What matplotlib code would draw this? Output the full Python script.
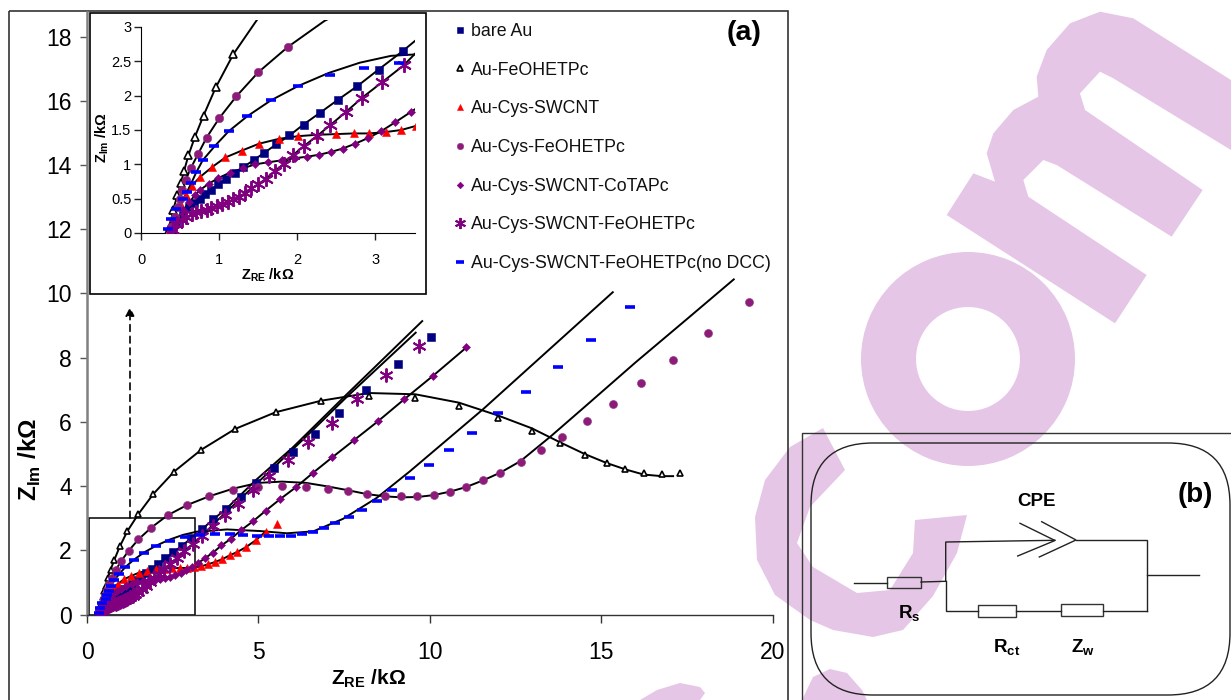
import numpy as np
import matplotlib
matplotlib.use("Agg")
import matplotlib.pyplot as plt
from matplotlib.patches import Rectangle, FancyBboxPatch, Polygon, Wedge
from matplotlib.lines import Line2D

plt.rcParams['font.family'] = ['Liberation Sans', 'DejaVu Sans']
plt.rcParams['mathtext.fontset'] = 'custom'
plt.rcParams['mathtext.rm'] = 'Liberation Sans'
plt.rcParams['mathtext.bf'] = 'Liberation Sans:bold'

# ---------- data (kOhm) ----------
bare_x = [.38,.45,.54,.62,.68,.75,.82,.9,.99,1.09,1.2,1.31,1.44,1.58,1.73,1.9,2.08,2.29,2.52,2.77,3.04,3.35,3.69,4.07,4.49,4.94,5.45,6.02,6.66,7.36,8.15,9.06,10.04]
bare_y = [.015,.16,.28,.38,.44,.5,.57,.63,.71,.79,.87,.96,1.06,1.17,1.29,1.42,1.58,1.75,1.94,2.14,2.38,2.65,2.97,3.3,3.67,4.09,4.55,5.05,5.61,6.27,6.98,7.79,8.66]
bare_fit_n = 24
bare_fit_tx = [4.94,6.0,7.57,9.78]
bare_fit_ty = [4.2,5.2,6.85,9.14]

fe_x = [.35,.37,.41,.466,.51,.55,.607,.69,.80,.957,1.18,1.5,1.94,2.54,3.33,4.32,5.5,6.83,8.22,9.58,10.85,11.99,12.98,13.81,14.52,15.16,15.71,16.24,16.77,17.29]
fe_y = [.015,.09,.33,.55,.73,.90,1.13,1.4,1.71,2.12,2.6,3.13,3.76,4.45,5.13,5.78,6.3,6.66,6.8,6.73,6.49,6.13,5.73,5.33,4.98,4.71,4.52,4.42,4.38,4.42]
fe_fit_n = 18
fe_fit_tx = [8.22,9.58,10.85,11.99,12.98,13.81,14.52,15.16,15.71,16.24,16.77,17.1]
fe_fit_ty = [6.9,6.86,6.6,6.2,5.8,5.36,5.0,4.72,4.52,4.36,4.31,4.31]

cys_x = [.35,.41,.5,.57,.65,.76,.91,1.08,1.29,1.51,1.76,2.01,2.25,2.49,2.72,2.92,3.13,3.33,3.52,3.72,3.94,4.16,4.39,4.64,4.92,5.21,5.54]
cys_y = [0,.23,.43,.55,.69,.82,.96,1.1,1.2,1.3,1.37,1.41,1.43,1.44,1.45,1.45,1.47,1.5,1.56,1.63,1.72,1.84,1.95,2.1,2.31,2.58,2.82]
cys_fit_n = 26

cfe_x = [.39,.43,.47,.50,.53,.57,.64,.73,.84,1.0,1.22,1.5,1.88,2.35,2.92,3.56,4.26,4.99,5.69,6.39,7.02,7.62,8.17,8.69,9.17,9.64,10.12,10.58,11.06,11.56,12.06,12.65,13.24,13.87,14.58,15.36,16.17,17.1,18.11,19.32]
cfe_y = [.09,.23,.38,.49,.62,.77,.95,1.15,1.39,1.67,1.99,2.34,2.71,3.09,3.41,3.68,3.89,3.98,4.01,3.98,3.92,3.84,3.75,3.70,3.69,3.69,3.72,3.83,3.97,4.18,4.42,4.75,5.11,5.52,6.03,6.56,7.22,7.94,8.78,9.72]
cfe_fit_n = 14
cfe_fit_tx = [2.35,2.92,3.56,4.26,4.99,5.69,6.39,7.02,7.62,8.17,8.69,9.17,9.64,10.12,10.6,11.06,11.56,12.06,12.65,13.53,14.5,16.0,17.5,18.87]
cfe_fit_ty = [3.09,3.41,3.68,3.92,4.1,4.14,4.1,3.99,3.87,3.75,3.68,3.65,3.66,3.72,3.83,3.97,4.18,4.42,4.78,5.55,6.45,7.85,9.2,10.44]

co_x = [.39,.45,.54,.62,.69,.76,.87,.99,1.14,1.3,1.46,1.63,1.81,1.97,2.12,2.28,2.43,2.58,2.74,2.9,3.07,3.25,3.45,3.68,3.92,4.2,4.5,4.84,5.21,5.63,6.09,6.59,7.16,7.79,8.49,9.25,10.1,11.07]
co_y = [.015,.16,.33,.45,.55,.63,.72,.8,.88,.94,1.0,1.03,1.06,1.09,1.11,1.14,1.18,1.23,1.3,1.38,1.48,1.61,1.76,1.93,2.15,2.36,2.63,2.9,3.23,3.59,3.96,4.41,4.9,5.43,6.02,6.7,7.44,8.32]

x6_x = [.41,.45,.52,.58,.65,.71,.77,.84,.9,.97,1.04,1.11,1.18,1.26,1.33,1.41,1.5,1.6,1.71,1.83,1.95,2.09,2.25,2.42,2.62,2.83,3.09,3.36,3.67,4.02,4.42,4.83,5.32,5.85,6.45,7.15,7.89,8.73,9.68]
x6_y = [.04,.13,.19,.23,.27,.3,.32,.34,.36,.39,.42,.45,.49,.53,.58,.65,.71,.79,.9,1.01,1.14,1.27,1.41,1.57,1.76,1.97,2.2,2.44,2.77,3.09,3.45,3.87,4.33,4.81,5.37,5.98,6.71,7.47,8.37]
x6_fit_n = 28
x6_fit_tx = [3.67,4.42,5.32,6.45,7.6,9.59]
x6_fit_ty = [2.8,3.55,4.45,5.6,6.8,8.78]

dcc_x = [.35,.39,.45,.54,.59,.645,.71,.79,.94,1.12,1.36,1.66,2.01,2.42,2.85,3.3,3.74,4.17,4.56,4.95,5.32,5.63,5.94,6.26,6.58,6.91,7.25,7.63,8.02,8.45,8.89,9.42,9.97,10.57,11.24,11.98,12.82,13.73,14.71,15.83]
dcc_y = [.06,.21,.35,.49,.60,.73,.89,1.06,1.26,1.48,1.70,1.93,2.14,2.30,2.41,2.48,2.52,2.5,2.49,2.46,2.44,2.44,2.46,2.5,2.57,2.71,2.85,3.05,3.27,3.55,3.87,4.24,4.65,5.14,5.66,6.27,6.93,7.72,8.55,9.57]
dcc_fit_n = 13
dcc_fit_tx = [2.4,2.8,3.2,3.5,4.08,5.05,5.83,6.6,7.47,8.45,9.42,11.55,15.34]
dcc_fit_ty = [2.33,2.48,2.58,2.6,2.65,2.6,2.53,2.59,2.98,3.63,4.46,6.39,10.04]

legend_labels = ['bare Au','Au-FeOHETPc','Au-Cys-SWCNT','Au-Cys-FeOHETPc',
                 'Au-Cys-SWCNT-CoTAPc','Au-Cys-SWCNT-FeOHETPc','Au-Cys-SWCNT-FeOHETPc(no DCC)']
x_ticks_main = [0,5,10,15,20]
y_ticks_main = [0,2,4,6,8,10,12,14,16,18]
x_ticks_inset = [0,1,2,3]
y_ticks_inset = [0,.5,1,1.5,2,2.5,3]
y_tick_labels_inset = ['0','0.5','1','1.5','2','2.5','3']

W, H = 1231, 700
fig = plt.figure(figsize=(W/100, H/100), dpi=100)
fig.patch.set_facecolor('white')

def axpx(l, t, r, b, **kw):
    return fig.add_axes([l/W, 1-b/H, (r-l)/W, (b-t)/H], **kw)

# ---------- page layer in pixel coordinates ----------
page = fig.add_axes([0, 0, 1, 1], zorder=0)
page.set_xlim(0, W); page.set_ylim(H, 0); page.axis('off')
PINK = '#E6C6E6'

page.add_patch(Wedge((968, 359), 107, 0, 360, width=55, fc=PINK, ec='none'))
m_z = np.array([(580,520),(500,645),(1005,970),(1100,825),(745,590),(730,540),(790,480),(830,495),(1175,710),
                (1268,570),(915,330),(900,280),(960,215),(1000,235),(1353,450),(1353,240),(1060,55),(960,35),
                (870,70),(800,150),(770,230),(775,290),(700,330),(640,400),(620,460),(645,545)], float)
page.add_patch(Polygon(m_z/3 + [780, 0], closed=True, fc=PINK, ec='none'))
c_pts = [(823,428),(790,447),(765,480),(755,517),(757,560),(775,595),(810,620),(833,630),(873,637),(903,630),
         (933,596),(957,553),(967,515),(915,520),(913,553),(890,590),(857,593),(813,567),(797,543),(810,507),(845,470)]
page.add_patch(Polygon(c_pts, closed=True, fc=PINK, ec='none'))
page.add_patch(Polygon([(802,700),(813,677),(830,669),(847,673),(862,690),(867,700)], closed=True, fc=PINK, ec='none'))
page.add_patch(Polygon([(640,700),(657,690),(680,683),(700,687),(705,693),(700,700)], closed=True, fc=PINK, ec='none'))

# frames of both panels
page.add_patch(Rectangle((8.5, 10.5), 779.5, 720, fc='none', ec='#333333', lw=1.2))
page.add_patch(Rectangle((802, 433), 460, 300, fc='none', ec='#333333', lw=1.0))
page.add_patch(FancyBboxPatch((811+62, 443+62), 419-124, 252-124, boxstyle='round,pad=62,rounding_size=62',
                              fc='none', ec='#222222', lw=1.0))
# inset frame and zoom box
page.add_patch(Rectangle((89.5, 12.5), 336.5, 281.5, fc='white', ec='black', lw=1.2))
page.add_patch(Rectangle((89, 518), 105.5, 97, fc='none', ec='black', lw=1.1, zorder=5))
page.annotate('', xy=(130, 307), xytext=(130, 518),
              arrowprops=dict(arrowstyle='-|>', linestyle=(0, (4, 3)), color='black', lw=1.2,
                              mutation_scale=13, shrinkA=0, shrinkB=0))

# equivalent circuit
wires = [[(854,582.5),(887,582.5)],[(921,582),(945.7,581.3)],[(945.7,581.3),(945.7,542),(1055,540.3)],
         [(945.7,581.3),(945.7,610.7),(978.3,610.7)],[(1016.3,610.7),(1060.7,610.7)],[(1103.3,610.7),(1146.7,610.7)],
         [(1076,540.3),(1146.7,540.3),(1146.7,610.7)],[(1146.7,575),(1198.7,575)],
         [(1020,523.3),(1055,540.5),(1017.7,556)],[(1041.7,521.7),(1076,540),(1039.3,557)]]
for w in wires:
    page.plot(*zip(*w), color='#222222', lw=1.0, solid_joinstyle='miter')
for (l, t, r, b) in [(886.7,577,920.7,588),(978.3,605,1016.3,617),(1060.7,604,1103.3,616)]:
    page.add_patch(Rectangle((l, t), r-l, b-t, fc='none', ec='#333333', lw=1.0))
page.text(1037, 501, 'CPE', fontsize=13.5, fontweight='bold', ha='center', va='center')
page.text(1195, 495, '(b)', fontsize=20, fontweight='bold', ha='center', va='center')
page.text(744, 33, '(a)', fontsize=20.5, fontweight='bold', ha='center', va='center')
page.text(909, 614, r'R$_{\mathbf{s}}$', fontsize=13.5, fontweight='bold', ha='center', va='center')
page.text(1007, 648, r'R$_{\mathbf{ct}}$', fontsize=13.5, fontweight='bold', ha='center', va='center')
page.text(1083, 648, r'Z$_{\mathbf{w}}$', fontsize=13.5, fontweight='bold', ha='center', va='center')

# ---------- series definitions ----------
styles = [
    dict(marker='s', mfc='#000080', mec='#000080', ms=5.6, mew=.4),
    dict(marker='^', mfc='white', mec='black', ms=5.0, mew=1.2),
    dict(marker='^', mfc='#FF0000', mec='#FF0000', ms=6.0, mew=.4),
    dict(marker='o', mfc='#8E1B7C', mec='#8E3A7C', ms=5.8, mew=.4),
    dict(marker='D', mfc='#800080', mec='#800080', ms=4.2, mew=.4),
    dict(marker=(6, 2, 0), mec='#800080', ms=10, mew=1.4),
    dict(marker='_', mec='#0000FF', ms=7.5, mew=2.6),
]
series = [(bare_x, bare_y), (fe_x, fe_y), (cys_x, cys_y), (cfe_x, cfe_y), (co_x, co_y), (x6_x, x6_y), (dcc_x, dcc_y)]
fits = [
    (bare_x[:bare_fit_n] + bare_fit_tx, bare_y[:bare_fit_n] + bare_fit_ty),
    (fe_x[:fe_fit_n] + fe_fit_tx, fe_y[:fe_fit_n] + fe_fit_ty),
    (cys_x[:cys_fit_n], cys_y[:cys_fit_n]),
    (cfe_x[:cfe_fit_n] + cfe_fit_tx, cfe_y[:cfe_fit_n] + cfe_fit_ty),
    (co_x, co_y),
    (x6_x[:x6_fit_n] + x6_fit_tx, x6_y[:x6_fit_n] + x6_fit_ty),
    (dcc_x[:dcc_fit_n] + dcc_fit_tx, dcc_y[:dcc_fit_n] + dcc_fit_ty),
]

def draw(ax, ymax=None, scale=1.0):
    for (fx, fy) in fits:
        ax.plot(fx, fy, color='black', lw=1.4, zorder=2)
    for (sx, sy), st in zip(series, styles):
        st2 = dict(st); st2['ms'] = st['ms']*scale
        sx = np.asarray(sx); sy = np.asarray(sy)
        keep = sy <= ymax if ymax is not None else np.ones_like(sy, dtype=bool)
        ax.plot(sx[keep], sy[keep], ls='none', zorder=3, **st2)

# ---------- main plot ----------
ax = axpx(87, 12, 772.5, 614.5, zorder=1)
ax.patch.set_alpha(0)
draw(ax)
ax.set_xlim(0, 20); ax.set_ylim(0, 602.5/32.1)
ax.set_xticks(x_ticks_main); ax.set_yticks(y_ticks_main)
ax.tick_params(axis='x', labelsize=16.5, length=6, width=1, pad=13, color='#333333')
ax.tick_params(axis='y', labelsize=16.5, length=5, width=1, pad=6, color='#555555')
for s in ('top', 'right'):
    ax.spines[s].set_visible(False)
ax.spines['left'].set_color('#808080'); ax.spines['left'].set_linewidth(1.8)
ax.spines['bottom'].set_color('#333333'); ax.spines['bottom'].set_linewidth(1)
page.text(368, 679, r'Z$_{\mathbf{RE}}$ /kΩ', fontsize=15, fontweight='bold', ha='center', va='center')
page.text(30, 459, r'Z$_{\mathbf{Im}}$ /kΩ', fontsize=17.5, fontweight='bold', ha='center', va='center', rotation=90)

proxies = [Line2D([], [], ls='none', **st) for st in styles]
ax.legend(proxies, legend_labels, loc='upper left', bbox_to_anchor=((452-87)/685.5, 1-(23-12)/602.5),
          frameon=False, fontsize=12.8, handlelength=.9, handletextpad=.18, labelspacing=1.22, markerscale=.8,
          borderpad=0, borderaxespad=0, labelcolor='#111111')

# ---------- inset ----------
ins = axpx(141, 20, 414.5, 233, zorder=2)
ins.patch.set_alpha(0)
draw(ins, ymax=3, scale=1.05)
ins.set_xlim(0, 3.5); ins.set_ylim(0, 213/68.67)
ins.set_xticks(x_ticks_inset); ins.set_yticks(y_ticks_inset); ins.set_yticklabels(y_tick_labels_inset)
ins.tick_params(axis='both', labelsize=10.5, length=5, width=1, color='#222222', pad=2)
ins.tick_params(axis='x', pad=9.5)
for s in ('top', 'right'):
    ins.spines[s].set_visible(False)
ins.spines['left'].set_bounds(0, 3)
page.text(268, 275, r'Z$_{\mathbf{RE}}$ /kΩ', fontsize=10.5, fontweight='bold', ha='center', va='center')
page.text(102.5, 138, r'Z$_{\mathbf{Im}}$ /kΩ', fontsize=10.5, fontweight='bold', ha='center', va='center', rotation=90)

fig.savefig('out.png', dpi=100)
